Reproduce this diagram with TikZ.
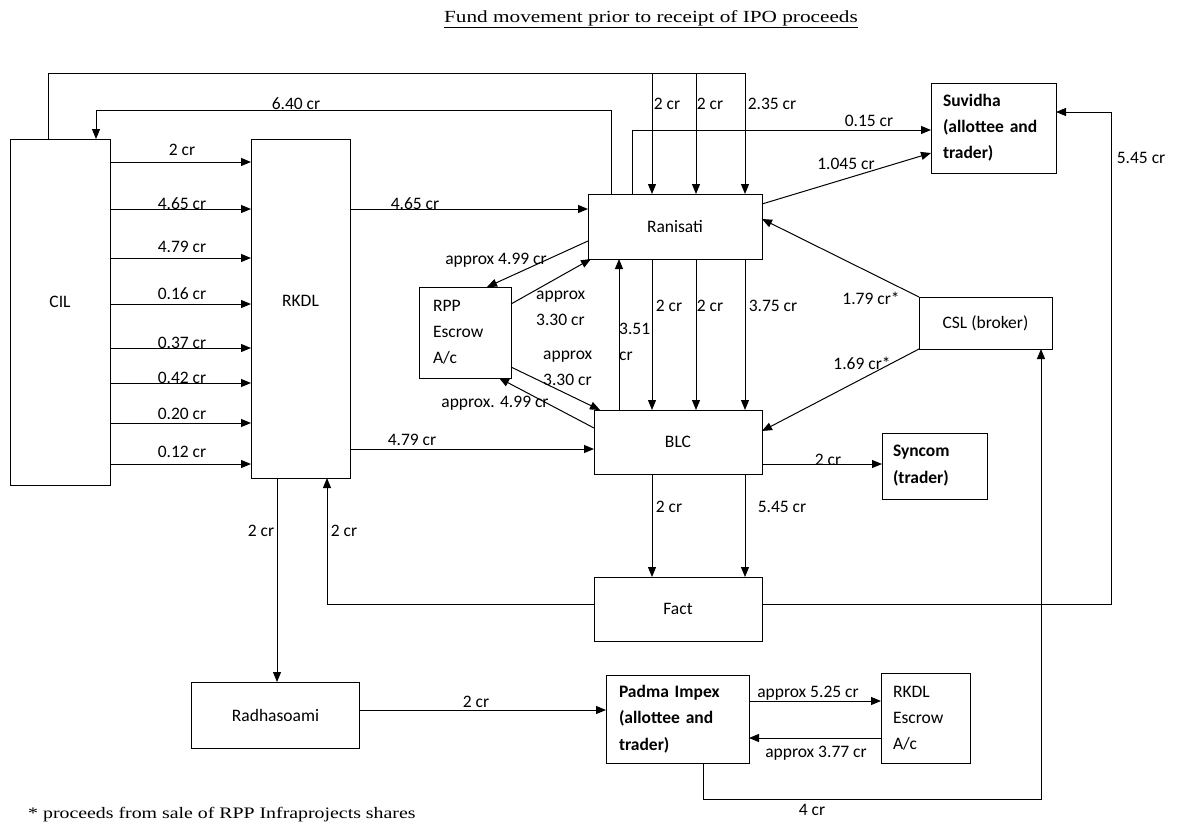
\documentclass[tikz,border=0pt]{standalone}
\usepackage{fontspec}
\usepackage{graphicx}
\setmainfont{Carlito}
\newfontfamily\serifx{Liberation Serif}
\usetikzlibrary{arrows.meta}
\tikzset{
  box/.style={draw, line width=1pt, inner sep=0pt, outer sep=0pt, font=\fontsize{17.5}{26}\selectfont},
  tbox/.style={box, align=left, text width=#1},
  arr/.style={line width=1pt, -{Triangle[length=10pt,width=8pt]}},
  lab/.style={inner sep=0pt, font=\fontsize{17.5}{26}\selectfont},
}
\begin{document}
\begin{tikzpicture}[x=1pt,y=-1pt]
\useasboundingbox (0,0) rectangle (1179,825);
% title & footnote
\node[inner sep=0pt] (title) at (651,19) {\serifx\fontsize{17}{20}\selectfont\scalebox{1.25}[1]{\underline{Fund movement prior to receipt of IPO proceeds}}};
\node[inner sep=0pt, anchor=west] (foot) at (28,815) {\serifx\fontsize{16}{20}\selectfont\scalebox{1.24}[1]{* proceeds from sale of RPP Infraprojects shares}};
% boxes
\node[box, minimum width=100, minimum height=346] (cil) at (60,312) {\raisebox{20pt}{CIL}};
\node[box, minimum width=99, minimum height=339] (rkdl) at (300.5,308.5) {\raisebox{16pt}{RKDL}};
\node[box, minimum width=174, minimum height=65] (ran) at (675,226.5) {Ranisati};
\node[tbox=64, inner xsep=14pt, minimum height=91] (rpp) at (465,332.5) {RPP\\Escrow\\A/c};
\node[box, minimum width=168, minimum height=64] (blc) at (678,442) {BLC};
\node[tbox=101, inner xsep=12pt, minimum height=90, font=\fontsize{17.5}{26}\selectfont\bfseries] (suv) at (993.5,128) {Suvidha\\(allottee and\\trader)};
\node[box, minimum width=133, minimum height=52] (csl) at (985.5,323) {CSL (broker)};
\node[tbox=83, inner xsep=11pt, minimum height=66, font=\fontsize{17.5}{27}\selectfont\bfseries] (syn) at (934.5,466) {Syncom\\(trader)};
\node[box, minimum width=168, minimum height=64] (fact) at (678,609) {Fact};
\node[box, minimum width=168, minimum height=66] (rad) at (275.5,715) {Radhasoami};
\node[tbox=117, inner xsep=13pt, minimum height=88, font=\fontsize{17.5}{26.5}\selectfont\bfseries] (pad) at (677.5,719) {Padma Impex\\(allottee and\\trader)};
\node[tbox=65, inner xsep=12pt, minimum height=90] (resc) at (925.5,718) {RKDL\\Escrow\\A/c};
% top loop CIL -> Ranisati
\draw[arr] (cil.north -| 48,0) -- (48,73) -- (745,73) -- (ran.north -| 745,0);
\draw[arr] (652,73) -- (ran.north -| 652,0);
\draw[arr] (696,73) -- (ran.north -| 696,0);
\node[lab] at (667,104) {2 cr};
\node[lab] at (710,104) {2 cr};
\node[lab] at (772,104) {2.35 cr};
% 6.40
\draw[arr] (ran.north -| 611,0) -- (611,110) -- (96,110) -- (cil.north -| 96,0);
\node[lab] at (296,104) {6.40 cr};
% 0.15
\draw[arr] (ran.north -| 632,0) -- (632,130) -- (suv.west |- 0,130);
\node[lab] at (869,121) {0.15 cr};
% 1.045
\draw[arr] (ran.east |- 0,204) -- (suv.west |- 0,153);
\node[lab] at (846,164) {1.045 cr};
% 5.45 Fact -> Suvidha
\draw[arr] (fact.east |- 0,604) -- (1111,604) -- (1111,112) -- (suv.east |- 0,112);
\node[lab] at (1141,158) {5.45 cr};
% CIL -> RKDL
\foreach \yy/\ly/\t in {162/150/2 cr, 209/204/4.65 cr, 258/247/4.79 cr, 304/294/0.16 cr, 348/343/0.37 cr, 383/378/0.42 cr, 423/414/0.20 cr, 464/452/0.12 cr}{
  \draw[arr] (cil.east |- 0,\yy) -- (rkdl.west |- 0,\yy);
  \node[lab] at (182,\ly) {\t};
}
% RKDL -> Ranisati, BLC
\draw[arr] (rkdl.east |- 0,209) -- (ran.west |- 0,209);
\node[lab] at (415,204) {4.65 cr};
\draw[arr] (rkdl.east |- 0,449) -- (blc.west |- 0,449);
\node[lab] at (412,440) {4.79 cr};
% Ranisati <-> RPP
\draw[arr] (ran.west |- 0,241) -- (rpp.north -| 487,0);
\node[lab] at (496,260) {approx 4.99 cr};
\draw[arr] (rpp.east |- 0,304) -- ([xshift=3pt]ran.south west);
\node[lab, anchor=west, align=left] at (536,308) {approx\\3.30 cr};
% RPP <-> BLC
\draw[arr] (rpp.east |- 0,367) -- ([xshift=6pt]blc.north west);
\node[lab, anchor=west, align=left] at (543,368) {approx\\3.30 cr};
\draw[arr] (blc.west |- 0,428) -- (rpp.south -| 499,0);
\node[lab] at (495,403) {approx. 4.99 cr};
% BLC -> Ranisati 3.51
\draw[arr] (blc.north -| 619,0) -- (ran.south -| 619,0);
\node[lab, anchor=west, align=left] at (619,342) {3.51\\cr};
% Ranisati -> BLC
\draw[arr] (ran.south -| 652,0) -- (blc.north -| 652,0);
\draw[arr] (ran.south -| 696,0) -- (blc.north -| 696,0);
\draw[arr] (ran.south -| 745,0) -- (blc.north -| 745,0);
\node[lab] at (669,306) {2 cr};
\node[lab] at (710,306) {2 cr};
\node[lab] at (773,306) {3.75 cr};
% CSL -> Ranisati, BLC
\draw[arr] (csl.north west) -- (ran.east |- 0,219);
\node[lab] at (871,298) {1.79 cr*};
\draw[arr] (csl.south west) -- (blc.east |- 0,431);
\node[lab] at (862,363) {1.69 cr*};
% BLC -> Syncom
\draw[arr] (blc.east |- 0,464) -- (syn.west |- 0,464);
\node[lab] at (828,460) {2 cr};
% BLC -> Fact
\draw[arr] (blc.south -| 652,0) -- (fact.north -| 652,0);
\draw[arr] (blc.south -| 745,0) -- (fact.north -| 745,0);
\node[lab] at (669,507) {2 cr};
\node[lab] at (782,507) {5.45 cr};
% Fact -> RKDL
\draw[arr] (fact.west |- 0,604) -- (327,604) -- (rkdl.south -| 327,0);
\node[lab] at (344,531) {2 cr};
% RKDL -> Radhasoami
\draw[arr] (rkdl.south -| 277,0) -- (rad.north -| 277,0);
\node[lab] at (261,531) {2 cr};
% Radhasoami -> Padma
\draw[arr] (rad.east |- 0,710) -- (pad.west |- 0,710);
\node[lab] at (476,702) {2 cr};
% Padma <-> RKDL Escrow
\draw[arr] (pad.east |- 0,701) -- (resc.west |- 0,701);
\node[lab] at (808,693) {approx 5.25 cr};
\draw[arr] (resc.west |- 0,738) -- (pad.east |- 0,738);
\node[lab] at (816,753) {approx 3.77 cr};
% Padma -> CSL
\draw[arr] (pad.south -| 703,0) -- (703,799) -- (1041,799) -- (csl.south -| 1041,0);
\node[lab] at (812,810) {4 cr};
\end{tikzpicture}
\end{document}
